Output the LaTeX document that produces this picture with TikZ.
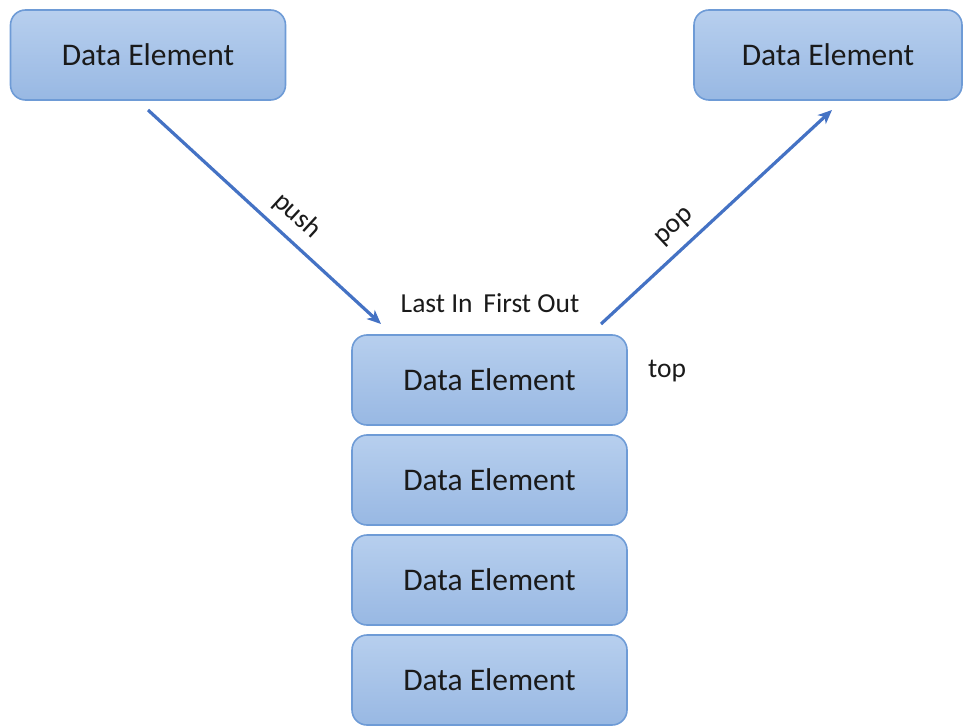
\documentclass[tikz,border=0pt]{standalone}
\usepackage{fontspec}
\setmainfont{Carlito}
\usetikzlibrary{arrows.meta}
\definecolor{boxtop}{HTML}{B7CFEE}
\definecolor{boxbot}{HTML}{98B8E3}
\definecolor{boxline}{HTML}{6E9BD6}
\definecolor{arrowc}{HTML}{4472C4}
\definecolor{txt}{HTML}{1A1A1A}
\tikzset{
  databox/.style={draw=boxline, line width=1.6pt, rounded corners=15pt,
    top color=boxtop, bottom color=boxbot, minimum width=275pt, minimum height=90pt,
    inner sep=0pt, text=txt, font=\fontsize{31.5}{34}\selectfont},
  lbl/.style={text=txt, font=\fontsize{27.5}{30}\selectfont, inner sep=0pt},
  flow/.style={draw=arrowc, line width=3.2pt, -{Stealth[length=14pt,width=12pt,inset=4pt]}}
}
\begin{document}
\begin{tikzpicture}[x=1pt,y=-1pt]
\useasboundingbox (0,0) rectangle (963,727);
\node[databox] (tl) at (148,55) {Data Element};
\node[databox, minimum width=268pt] (tr) at (828,55) {Data Element};
\node[databox] (s1) at (489.5,380) {Data Element};
\node[databox] (s2) at (489.5,480) {Data Element};
\node[databox] (s3) at (489.5,580) {Data Element};
\node[databox] (s4) at (489.5,680) {Data Element};
\node[lbl] (lifo) at (490,303) {Last In\, First Out};
\node[lbl] (top) at (667,371) {top};
\coordinate (pushs) at (148,110);
\coordinate (pushe) at (381,324);
\coordinate (pops) at (601,324);
\coordinate (pope) at (832,110);
\draw[flow] (pushs) -- (pushe);
\draw[flow] (pops) -- (pope);
\node[lbl, rotate=-42.5] (pushl) at (297,216) {push};
\node[lbl, rotate=43] (popl) at (675,227) {pop};
\end{tikzpicture}
\end{document}
